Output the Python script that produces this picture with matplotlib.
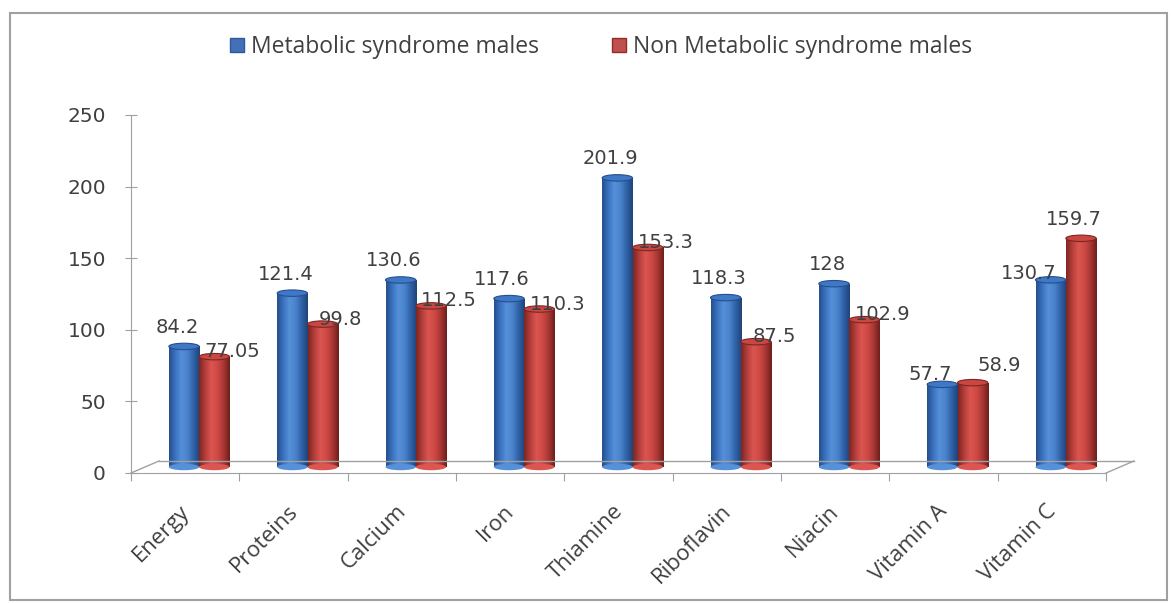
import numpy as np
import matplotlib.pyplot as plt
from matplotlib.patches import Patch, Ellipse, Rectangle
from matplotlib.lines import Line2D
from matplotlib.transforms import offset_copy
from matplotlib.colors import LinearSegmentedColormap

nutrients = ["Energy", "Proteins", "Calcium", "Iron", "Thiamine",
             "Riboflavin", "Niacin", "Vitamin A", "Vitamin C"]
ms_males = [84.2, 121.4, 130.6, 117.6, 201.9, 118.3, 128, 57.7, 130.7]
non_ms_males = [77.05, 99.8, 112.5, 110.3, 153.3, 87.5, 102.9, 58.9, 159.7]
ms_labels = ["84.2", "121.4", "130.6", "117.6", "201.9", "118.3", "128", "57.7", "130.7"]
non_ms_labels = ["77.05", "99.8", "112.5", "110.3", "153.3", "87.5", "102.9", "58.9", "159.7"]

W, H = 1171, 603
fig = plt.figure(figsize=(W / 100, H / 100), dpi=100)
ax = fig.add_axes([131 / W, 1 - 473 / H, 975 / W, 358 / H])

# depth of the fake 3d floor, in pixels
depth_x, depth_y = 28, 12
bar_dx, bar_dy = 14, 6
bar_shift = offset_copy(ax.transData, fig=fig, x=bar_dx, y=bar_dy, units="dots")
back_shift = offset_copy(ax.transData, fig=fig, x=depth_x, y=depth_y, units="dots")

x = np.arange(len(nutrients)) + 0.5
bw = 0.28

blue_map = LinearSegmentedColormap.from_list(
    "b", ["#254f8c", "#3a72c0", "#5590d8", "#4a83cc", "#2f62a8", "#1f4479"])
red_map = LinearSegmentedColormap.from_list(
    "r", ["#7e2522", "#b43e3a", "#dc5550", "#cf4a45", "#a83733", "#6e1f1c"])
grad = np.linspace(0, 1, 64).reshape(1, -1)


def cylinder(xc, val, cmap, cap_color):
    rect = Rectangle((xc - bw / 2, 0), bw, val, transform=bar_shift,
                     facecolor="none", edgecolor="none")
    ax.add_patch(rect)
    im = ax.imshow(grad, cmap=cmap, aspect="auto",
                   extent=[xc - bw / 2, xc + bw / 2, 0, val])
    im.set_transform(bar_shift)
    im.set_clip_path(rect)
    cap = Ellipse((xc, val), bw, 4.5, transform=bar_shift,
                  facecolor=cap_color, edgecolor=cmap(0.0), lw=0.8, zorder=3)
    ax.add_patch(cap)
    base = Ellipse((xc, 0), bw, 4.5, transform=bar_shift,
                   facecolor=cmap(0.4), edgecolor="none", zorder=2)
    ax.add_patch(base)


# label offsets (pixels) from the drawn top of each cylinder
blue_off = {i: (-7, 19) for i in range(len(nutrients))}
red_off = {i: (18, 5) for i in range(len(nutrients))}
blue_off[7], red_off[7] = (-12, 10), (27, 17)
blue_off[8], red_off[8] = (-22, 6), (-7, 19)

for i in range(len(nutrients)):
    cylinder(x[i] - bw / 2, ms_males[i], blue_map, "#3f78c6")
    cylinder(x[i] + bw / 2, non_ms_males[i], red_map, "#c84743")
    bx, by = blue_off[i]
    rx, ry = red_off[i]
    ax.annotate(ms_labels[i], (x[i] - bw / 2, ms_males[i]),
                xytext=(bx + bar_dx, by + bar_dy), textcoords="offset pixels",
                ha="center", va="center", fontsize=14, color="#404040")
    ax.annotate(non_ms_labels[i], (x[i] + bw / 2, non_ms_males[i]),
                xytext=(rx + bar_dx, ry + bar_dy), textcoords="offset pixels",
                ha="center", va="center", fontsize=14, color="#404040")

ax.set_xlim(0, len(nutrients))
ax.set_ylim(0, 250)

# floor outline
floor_col = "#a0a0a0"
n = len(nutrients)
ax.add_line(Line2D([0, n], [0, 0], transform=back_shift, color=floor_col, lw=1, clip_on=False, zorder=1))
for xe in (0, n):
    px, py = ax.transData.transform((xe, 0))
    ax.add_line(Line2D([px, px + depth_x], [py, py + depth_y], transform=None,
                       color=floor_col, lw=1, clip_on=False, zorder=1))

for s in ["top", "right"]:
    ax.spines[s].set_visible(False)
for s in ["left", "bottom"]:
    ax.spines[s].set_color(floor_col)

ax.set_yticks([0, 50, 100, 150, 200, 250])
ax.tick_params(axis="y", direction="inout", length=8, color=floor_col,
               labelsize=14.5, labelcolor="#404040", pad=14)
ax.set_xticks(np.arange(n + 1))
ax.set_xticklabels([])
ax.tick_params(axis="x", which="major", direction="out", length=6, color=floor_col)
ax.set_xticks(x - 0.06, minor=True)
ax.set_xticklabels(nutrients, minor=True, rotation=45, ha="right",
                   rotation_mode="anchor", fontsize=16, family="Open Sans",
                   color="#404040")
ax.tick_params(axis="x", which="minor", length=0, pad=20)

handles = [Patch(facecolor="#4470b8", edgecolor="#2c5a99"),
           Patch(facecolor="#c0504d", edgecolor="#8e2d2a")]
fig.legend(handles, ["Metabolic syndrome males", "Non Metabolic syndrome males"],
           loc="center", bbox_to_anchor=(601 / W, 1 - 47 / H), ncol=2, frameon=False,
           prop={"family": "Open Sans", "size": 16.5}, handlelength=0.6,
           handleheight=0.6, handletextpad=0.3, columnspacing=3.2,
           labelcolor="#404040")

# chart border
fig.add_artist(Rectangle((10 / W, 3 / H), 1157 / W, 587 / H, transform=fig.transFigure,
                         fill=False, edgecolor="#a0a0a0", lw=1.5))

fig.savefig("out.png", dpi=100)
